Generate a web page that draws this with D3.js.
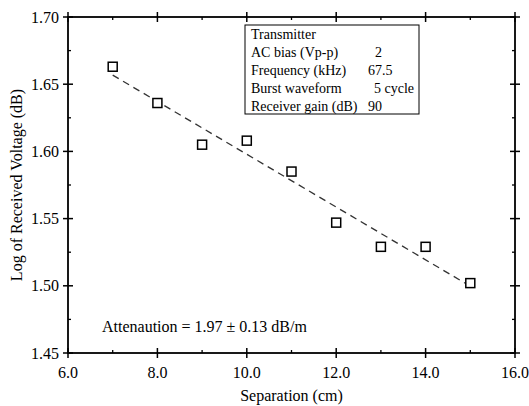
<!DOCTYPE html>
<html>
<head>
<meta charset="utf-8">
<script src="https://cdn.jsdelivr.net/npm/d3@7"></script>
<style>
  body { margin: 0; background: #fff; }
</style>
</head>
<body>
<div id="chart"></div>
<script>
// Data
var separation = [7, 8, 9, 10, 11, 12, 13, 14, 15];
var logVoltage = [1.663, 1.636, 1.605, 1.608, 1.585, 1.547, 1.529, 1.529, 1.502];
var xTicks = [6, 8, 10, 12, 14, 16];
var yTicks = [1.45, 1.50, 1.55, 1.60, 1.65, 1.70];
var infoLabels = ["Transmitter", "AC bias (Vp-p)", "Frequency (kHz)", "Burst waveform", "Receiver gain (dB)"];
var infoValues = ["", "2", "67.5", "5 cycle", "90"];
var note = "Attenaution = 1.97 \u00b1 0.13 dB/m";

var svgWidth = 529, svgHeight = 406;
var margin = { top: 17, right: 14, bottom: 53, left: 68 };
var width = svgWidth - margin.left - margin.right;
var height = svgHeight - margin.top - margin.bottom;
var font = "Liberation Serif";

var svg = d3.select("#chart").append("svg")
    .attr("width", svgWidth)
    .attr("height", svgHeight)
    .attr("font-family", font);

var g = svg.append("g")
    .attr("transform", "translate(" + margin.left + "," + margin.top + ")");

var x = d3.scaleLinear().domain([6, 16]).range([0, width]);
var y = d3.scaleLinear().domain([1.45, 1.70]).range([height, 0]);

// minor ticks (inward only)
var xMinor = d3.range(7, 16, 2);
var yMinor = d3.range(1.475, 1.70, 0.05);

g.selectAll(".xminor").data(xMinor).enter().append("line")
    .attr("x1", d => x(d)).attr("x2", d => x(d))
    .attr("y1", height).attr("y2", height - 3)
    .attr("stroke", "black").attr("stroke-width", 1.3);
g.selectAll(".xminorT").data(xMinor).enter().append("line")
    .attr("x1", d => x(d)).attr("x2", d => x(d))
    .attr("y1", 0).attr("y2", 3)
    .attr("stroke", "black").attr("stroke-width", 1.3);
g.selectAll(".yminor").data(yMinor).enter().append("line")
    .attr("x1", 0).attr("x2", 3)
    .attr("y1", d => y(d)).attr("y2", d => y(d))
    .attr("stroke", "black").attr("stroke-width", 1.3);
g.selectAll(".yminorR").data(yMinor).enter().append("line")
    .attr("x1", width).attr("x2", width - 3)
    .attr("y1", d => y(d)).attr("y2", d => y(d))
    .attr("stroke", "black").attr("stroke-width", 1.3);

// major ticks (crossing)
g.selectAll(".xmaj").data(xTicks).enter().append("line")
    .attr("x1", d => x(d)).attr("x2", d => x(d))
    .attr("y1", height - 5).attr("y2", height + 5)
    .attr("stroke", "black").attr("stroke-width", 1.5);
g.selectAll(".xmajT").data(xTicks).enter().append("line")
    .attr("x1", d => x(d)).attr("x2", d => x(d))
    .attr("y1", -5).attr("y2", 5)
    .attr("stroke", "black").attr("stroke-width", 1.5);
g.selectAll(".ymaj").data(yTicks).enter().append("line")
    .attr("x1", -5).attr("x2", 5)
    .attr("y1", d => y(d)).attr("y2", d => y(d))
    .attr("stroke", "black").attr("stroke-width", 1.5);
g.selectAll(".ymajR").data(yTicks).enter().append("line")
    .attr("x1", width - 5).attr("x2", width + 5)
    .attr("y1", d => y(d)).attr("y2", d => y(d))
    .attr("stroke", "black").attr("stroke-width", 1.5);

// frame
g.append("rect")
    .attr("x", 0).attr("y", 0)
    .attr("width", width).attr("height", height)
    .attr("fill", "none").attr("stroke", "black").attr("stroke-width", 1.8);

// tick labels
g.selectAll(".xlab").data(xTicks).enter().append("text")
    .attr("x", d => x(d)).attr("y", height + 25)
    .attr("text-anchor", "middle").attr("font-size", 16)
    .attr("font-family", font)
    .text(d => d3.format(".1f")(d));
g.selectAll(".ylab").data(yTicks).enter().append("text")
    .attr("x", -9).attr("y", d => y(d))
    .attr("dy", "0.35em")
    .attr("text-anchor", "end").attr("font-size", 16)
    .attr("font-family", font)
    .text(d => d3.format(".2f")(d));

// axis titles
svg.append("text")
    .attr("x", margin.left + width / 2).attr("y", 401)
    .attr("text-anchor", "middle").attr("font-size", 16)
    .attr("font-family", font)
    .text("Separation (cm)");
svg.append("text")
    .attr("transform", "translate(22," + (margin.top + height / 2) + ") rotate(-90)")
    .attr("text-anchor", "middle").attr("font-size", 16)
    .attr("font-family", font)
    .text("Log of Received Voltage (dB)");

// least squares fit line
var mx = d3.mean(separation), my = d3.mean(logVoltage);
var sxy = d3.sum(separation, (d, i) => (d - mx) * (logVoltage[i] - my));
var sxx = d3.sum(separation, d => (d - mx) * (d - mx));
var slope = sxy / sxx, icpt = my - slope * mx;
var xFit = d3.extent(separation);

g.append("line")
    .attr("x1", x(xFit[0])).attr("y1", y(icpt + slope * xFit[0]))
    .attr("x2", x(xFit[1])).attr("y2", y(icpt + slope * xFit[1]))
    .attr("stroke", "#333").attr("stroke-width", 1.3)
    .attr("stroke-dasharray", "7,5");

// points
var s = 9;
g.selectAll(".pt").data(separation).enter().append("rect")
    .attr("x", d => x(d) - s / 2)
    .attr("y", (d, i) => y(logVoltage[i]) - s / 2)
    .attr("width", s).attr("height", s)
    .attr("fill", "white").attr("stroke", "black").attr("stroke-width", 1.5);

// info box
var box = svg.append("g");
box.append("rect")
    .attr("x", 245).attr("y", 25)
    .attr("width", 174).attr("height", 89)
    .attr("fill", "white").attr("stroke", "black").attr("stroke-width", 1);
box.selectAll(".il").data(infoLabels).enter().append("text")
    .attr("x", 251).attr("y", (d, i) => 39 + i * 17.9)
    .attr("font-size", 14).attr("font-family", font)
    .text(d => d);
var valueX = [0, 375, 368, 374, 368];
box.selectAll(".iv").data(infoValues).enter().append("text")
    .attr("x", (d, i) => valueX[i]).attr("y", (d, i) => 39 + i * 17.9)
    .attr("font-size", 14).attr("font-family", font)
    .text(d => d);

// note
svg.append("text")
    .attr("x", 102).attr("y", 332)
    .attr("font-size", 16).attr("font-family", font)
    .text(note);
</script>
</body>
</html>
